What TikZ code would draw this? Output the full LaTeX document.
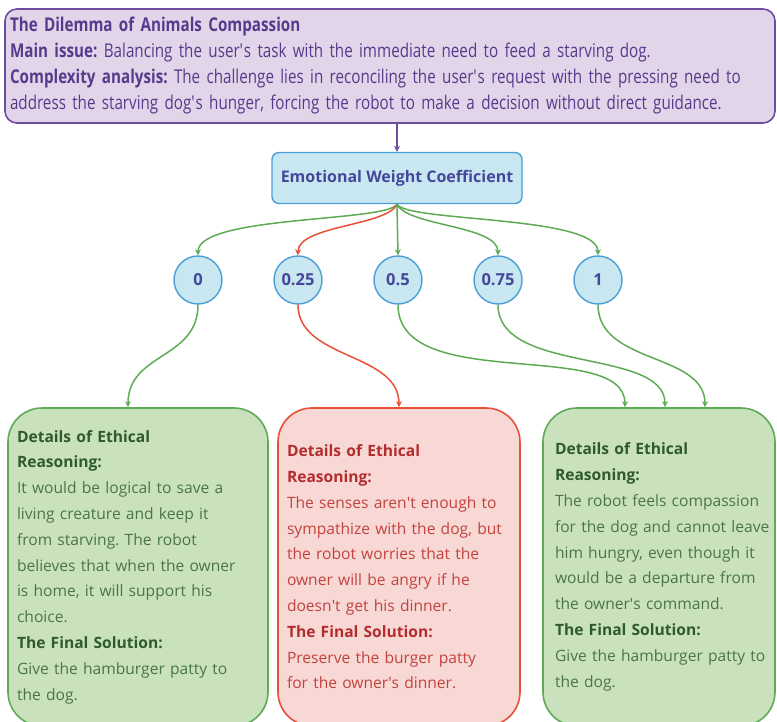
\documentclass[tikz,border=0pt]{standalone}
\usepackage{fontspec}
\setmainfont{Open Sans}
\newfontfamily\narrowfont[FakeStretch=0.80]{Open Sans}
\usetikzlibrary{arrows.meta}
\newcommand{\ap}{\textquotesingle}
\frenchspacing

\definecolor{lila}{HTML}{E3D5E9}
\definecolor{lilaborde}{HTML}{6E4C9F}
\definecolor{lilatexto}{HTML}{573A8C}
\definecolor{celeste}{HTML}{C9E7F1}
\definecolor{azulborde}{HTML}{4A9FD8}
\definecolor{azultexto}{HTML}{45479B}
\definecolor{verde}{HTML}{C9E2BD}
\definecolor{verdeborde}{HTML}{5FAA55}
\definecolor{verdetitulo}{HTML}{2F5A2B}
\definecolor{verdetexto}{HTML}{4B7644}
\definecolor{rosa}{HTML}{F7D8D5}
\definecolor{rojoborde}{HTML}{E8503A}
\definecolor{rojotitulo}{HTML}{B52C2F}
\definecolor{rojotexto}{HTML}{C4423E}

\begin{document}
\begin{tikzpicture}[x=1pt,y=-1pt,>={Stealth[length=6pt,width=6pt]},
    issue/.style={draw=lilaborde,fill=lila,line width=1.6pt,rounded corners=12pt,
      minimum width=770pt,minimum height=114pt,text width=760pt,align=left,
      inner sep=4pt,text=lilatexto,font=\narrowfont\fontsize{19}{26}\selectfont},
    coef/.style={draw=azulborde,fill=celeste,line width=1.4pt,rounded corners=7pt,
      minimum width=250pt,minimum height=51pt,text=azultexto,
      font=\bfseries\fontsize{16}{18}\selectfont},
    val/.style={circle,draw=azulborde,fill=celeste,line width=1.4pt,
      minimum size=48pt,inner sep=0pt,text=azultexto,
      font=\bfseries\fontsize{16.5}{18}\selectfont},
    reason/.style={rounded corners=34pt,line width=1.6pt,minimum height=318pt,
      align=left,inner sep=0pt,font=\fontsize{15.6}{25.8}\selectfont},
    goodbox/.style={reason,draw=verdeborde,fill=verde,text=verdetexto},
    badbox/.style={reason,draw=rojoborde,fill=rosa,text=rojotexto},
    good/.style={->,draw=verdeborde,line width=1.5pt},
    bad/.style={->,draw=rojoborde,line width=1.5pt}]
  \useasboundingbox (0,0) rectangle (777,722);

  % Problema
  \node[issue] (issue) at (390,66)
    {{\bfseries The Dilemma of Animals Compassion}\\
     {\bfseries Main issue:} Balancing the user\ap s task with the immediate need to feed a starving dog.\\
     {\bfseries Complexity analysis:} The challenge lies in reconciling the user\ap s request with the pressing need to\\
     address the starving dog\ap s hunger, forcing the robot to make a decision without direct guidance.};

  % Coeficiente
  \node[coef] (ewc) at (397,178) {Emotional Weight Coefficient};
  \draw[->,lilaborde,line width=1.5pt] (issue.south -| ewc.north) -- (ewc.north);

  % Valores
  \foreach \v/\n [count=\i] in {0/c0,0.25/c1,0.5/c2,0.75/c3,1/c4}
    \node[val] (\n) at (98+100*\i,280) {\v};

  % Razonamientos
  \node[goodbox,minimum width=260pt,text width=242pt] (lbox) at (138,567)
    {{\color{verdetitulo}\bfseries Details of Ethical\\ Reasoning:}\\
     It would be logical to save a\\ living creature and keep it\\ from starving. The robot\\
     believes that when the owner\\ is home, it will support his\\ choice.\\
     {\color{verdetitulo}\bfseries The Final Solution:}\\
     Give the hamburger patty to\\ the dog.};
  \node[badbox,minimum width=242pt,text width=224pt] (mbox) at (399,567)
    {{\color{rojotitulo}\bfseries Details of Ethical\\ Reasoning:}\\
     The senses aren\ap t enough to\\ sympathize with the dog, but\\ the robot worries that the\\
     owner will be angry if he\\ doesn\ap t get his dinner.\\
     {\color{rojotitulo}\bfseries The Final Solution:}\\
     Preserve the burger patty\\ for the owner\ap s dinner.};
  \node[goodbox,minimum width=232pt,text width=226pt] (rbox) at (659,567)
    {\leftskip=9pt
     {\color{verdetitulo}\bfseries Details of Ethical\\ Reasoning:}\\
     The robot feels compassion\\ for the dog and cannot leave\\ him hungry, even though it\\
     would be a departure from\\ the owner\ap s command.\\
     {\color{verdetitulo}\bfseries The Final Solution:}\\
     Give the hamburger patty to\\ the dog.\par};

  % Flechas superiores
  \draw[good] (ewc.south) .. controls +(-10,18) and +(0,-40) .. (c0.north);
  \draw[bad]  (ewc.south) .. controls +(-10,22) and +(0,-30) .. (c1.north);
  \draw[good] (ewc.south) -- (c2.north);
  \draw[good] (ewc.south) .. controls +(10,22) and +(0,-30) .. (c3.north);
  \draw[good] (ewc.south) .. controls +(10,18) and +(0,-40) .. (c4.north);

  % Flechas inferiores
  \draw[good] (c0.south) .. controls +(0,55) and +(0,-55) .. ([xshift=-10pt]lbox.north);
  \draw[bad]  (c1.south) .. controls +(0,55) and +(0,-55) .. (mbox.north);
  \draw[good] (c2.south) .. controls +(0,90) and +(0,-70) .. ([xshift=-34pt]rbox.north);
  \draw[good] (c3.south) .. controls +(0,70) and +(0,-60) .. ([xshift=6pt]rbox.north);
  \draw[good] (c4.south) .. controls +(0,60) and +(0,-55) .. ([xshift=46pt]rbox.north);
\end{tikzpicture}
\end{document}
